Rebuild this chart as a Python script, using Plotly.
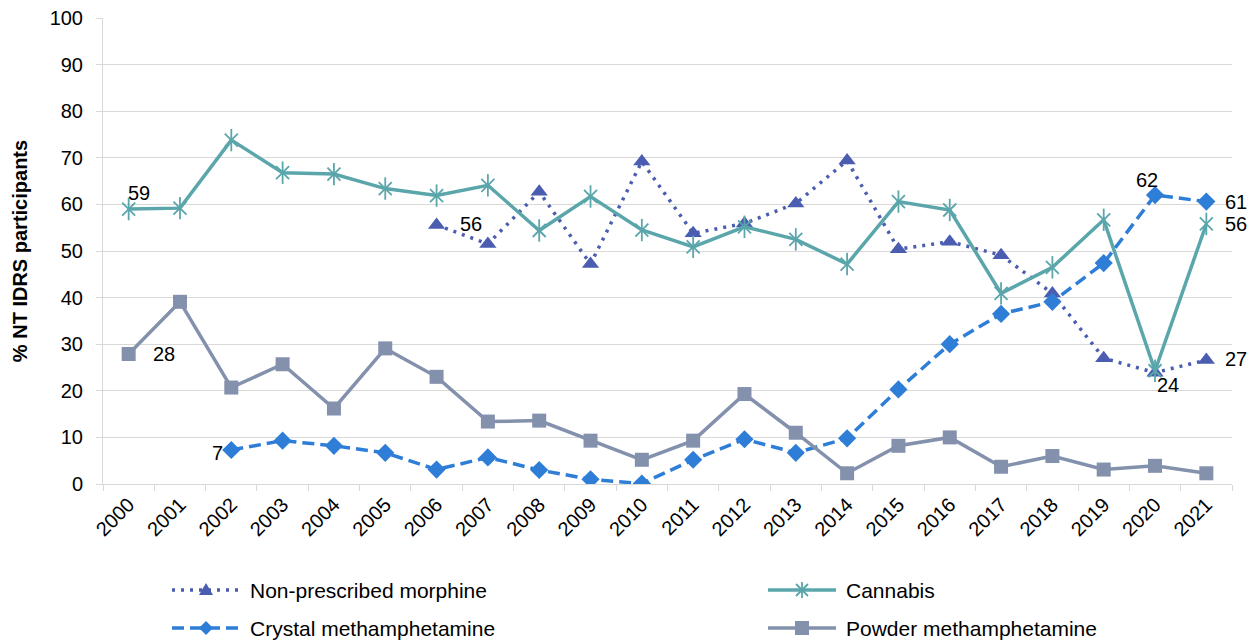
import plotly.graph_objects as go

# ---- data -----------------------------------------------------------------
years = ["2000", "2001", "2002", "2003", "2004", "2005", "2006", "2007",
         "2008", "2009", "2010", "2011", "2012", "2013", "2014", "2015",
         "2016", "2017", "2018", "2019", "2020", "2021"]

morphine = [None, None, None, None, None, None, 55.6, 51.5, 62.7, 47.2, 69.2,
            53.8, 55.9, 60.2, 69.4, 50.4, 52.0, 49.1, 40.9, 27.0, 23.9, 26.6]
cannabis = [59.0, 59.2, 73.8, 66.8, 66.5, 63.4, 61.9, 64.1, 54.4, 61.7, 54.5,
            50.9, 55.2, 52.5, 47.2, 60.6, 58.8, 40.9, 46.5, 56.7, 24.3, 55.8]
crystal = [None, None, 7.3, 9.3, 8.2, 6.7, 3.1, 5.7, 3.0, 1.0, 0.1,
           5.2, 9.6, 6.7, 9.8, 20.3, 30.0, 36.5, 39.1, 47.4, 62.0, 60.6]
powder = [27.9, 39.1, 20.7, 25.7, 16.2, 29.1, 23.0, 13.4, 13.6, 9.3, 5.2,
          9.3, 19.3, 11.0, 2.3, 8.2, 10.0, 3.7, 6.0, 3.1, 3.9, 2.3]

y_ticks = [0, 10, 20, 30, 40, 50, 60, 70, 80, 90, 100]

# ---- styling ----------------------------------------------------------------
FONT = "Liberation Sans, Arial, sans-serif"
C_MORPH = "#4A5DB0"
C_CANN = "#5AA6AB"
C_CRYS = "#2E7ED8"
C_POWD = "#8391AD"
GRID = "#D9D9D9"

W, H = 1258, 641
ML, MR, MT, MB = 103, 26, 18, 157
PW, PH = W - ML - MR, H - MT - MB


def px_x(px):
    return (px - ML) / PW


def px_y(py):
    return (H - MB - py) / PH


fig = go.Figure()

fig.add_trace(go.Scatter(
    x=years, y=morphine, mode="lines+markers", name="Non-prescribed morphine",
    line=dict(color=C_MORPH, width=3.5, dash="3px,6px"),
    marker=dict(symbol="triangle-up", size=15, color=C_MORPH)))

fig.add_trace(go.Scatter(
    x=years, y=cannabis, mode="lines+markers", name="Cannabis",
    line=dict(color=C_CANN, width=3.5),
    marker=dict(symbol="x-thin-open", size=13, color=C_CANN,
                line=dict(color=C_CANN, width=1.8))))
fig.add_trace(go.Scatter(
    x=years, y=cannabis, mode="markers", showlegend=False, hoverinfo="skip",
    marker=dict(symbol="line-ns-open", size=16, color=C_CANN,
                line=dict(color=C_CANN, width=1.8))))

fig.add_trace(go.Scatter(
    x=years, y=crystal, mode="lines+markers", name="Crystal methamphetamine",
    line=dict(color=C_CRYS, width=3.5, dash="12px,6px"),
    marker=dict(symbol="diamond", size=14, color=C_CRYS)))

fig.add_trace(go.Scatter(
    x=years, y=powder, mode="lines+markers", name="Powder methamphetamine",
    line=dict(color=C_POWD, width=3.5),
    marker=dict(symbol="square", size=14, color=C_POWD)))

# ---- value labels -----------------------------------------------------------
value_labels = [
    (cannabis, 0, 10, 16),
    (powder, 0, 35, 0),
    (crystal, 2, -14, -3),
    (morphine, 6, 34, 1),
    (crystal, 20, -8, 15),
    (crystal, 21, 30, 0),
    (cannabis, 21, 30, 0),
    (morphine, 20, 13, -12),
    (morphine, 21, 30, 1),
]
annotations = []
for series, i, dx, dy in value_labels:
    annotations.append(dict(
        x=i, y=series[i], xref="x", yref="y", text=f"{series[i]:.0f}",
        showarrow=False, xanchor="center", yanchor="middle",
        xshift=dx, yshift=dy, font=dict(family=FONT, size=20, color="#000000")))

# ---- legend (drawn below the plot) ------------------------------------------
shapes = []
legend_items = [
    ("Non-prescribed morphine", C_MORPH, "3px,6px", "tri", 172, 590),
    ("Cannabis", C_CANN, "solid", "star", 768, 590),
    ("Crystal methamphetamine", C_CRYS, "12px,6px", "dia", 172, 628),
    ("Powder methamphetamine", C_POWD, "solid", "sq", 768, 628),
]
marker_paths = {
    "tri": "M-7,-5 L7,-5 L0,7 Z",
    "dia": "M0,7 L7,0 L0,-7 L-7,0 Z",
    "sq": "M-7,-7 L7,-7 L7,7 L-7,7 Z",
    "star": "M0,-8 L0,8 M-6,-6 L6,6 M-6,6 L6,-6",
}
for label, col, dash, sym, x0, yrow in legend_items:
    shapes.append(dict(type="line", xref="paper", yref="paper",
                       x0=px_x(x0), x1=px_x(x0 + 68), y0=px_y(yrow), y1=px_y(yrow),
                       line=dict(color=col, width=3.5, dash=dash)))
    filled = sym != "star"
    shapes.append(dict(type="path", xref="paper", yref="paper",
                       xsizemode="pixel", ysizemode="pixel",
                       xanchor=px_x(x0 + 34), yanchor=px_y(yrow),
                       path=marker_paths[sym],
                       fillcolor=col if filled else "rgba(0,0,0,0)",
                       line=dict(color=col, width=0 if filled else 1.8)))
    annotations.append(dict(
        x=px_x(x0 + 76), y=px_y(yrow), xref="paper", yref="paper", text=label,
        showarrow=False, xanchor="left", yanchor="middle",
        font=dict(family=FONT, size=21, color="#000000")))

fig.update_layout(
    width=W, height=H,
    margin=dict(l=ML, r=MR, t=MT, b=MB, pad=0),
    paper_bgcolor="white", plot_bgcolor="white",
    showlegend=False,
    font=dict(family=FONT, size=20, color="#000000"),
    annotations=annotations,
    shapes=shapes,
)

fig.update_xaxes(
    type="category", range=[-0.5, len(years) - 0.5], automargin=False,
    tickangle=-45, tickson="boundaries", ticks="outside", ticklen=6,
    tickcolor=GRID, showline=True, linecolor=GRID, linewidth=1,
    showgrid=False, tickfont=dict(family=FONT, size=20, color="#000000"),
)
fig.update_yaxes(
    range=[0, 100], tickvals=y_ticks, showgrid=True, gridcolor=GRID, gridwidth=1,
    showline=True, linecolor=GRID, linewidth=1, zeroline=False, automargin=False,
    ticks="outside", ticklen=6, tickcolor=GRID, ticklabelstandoff=9,
    tickfont=dict(family=FONT, size=20, color="#000000"),
    title=dict(text="<b>% NT IDRS participants</b>", standoff=16,
               font=dict(family=FONT, size=20, color="#000000")),
)

fig.write_html("out.html")
